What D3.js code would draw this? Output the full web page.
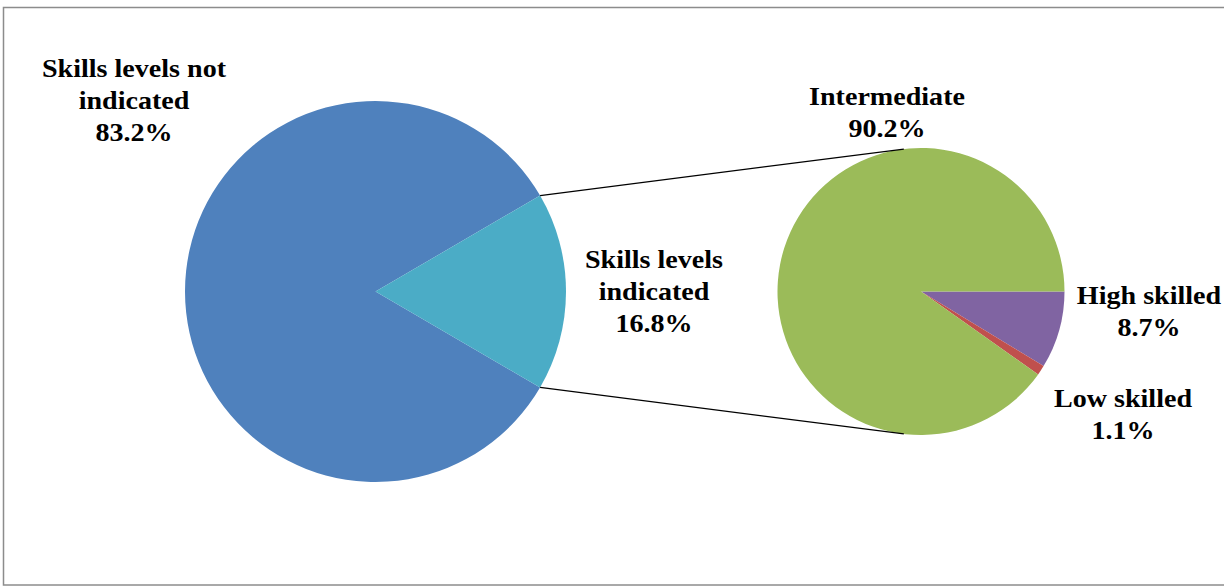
<!DOCTYPE html>
<html>
<head>
<meta charset="utf-8">
<script src="https://cdn.jsdelivr.net/npm/d3@7"></script>
<style>
  html, body { margin: 0; padding: 0; background: #fff; }
  svg { display: block; }
  .lbl { font-family: "Liberation Serif", "Times New Roman", serif; font-weight: bold; font-size: 26px; fill: #000; }
</style>
</head>
<body>
<svg id="chart" width="1224" height="587"></svg>
<script>
// ---- data ----
const mainCategories = ["Skills levels not indicated", "Skills levels indicated"];
const mainValues = [83.2, 16.8];
const mainColors = ["#4F81BD", "#4BACC6"];
const mainLabelLines = [["Skills levels not", "indicated", "83.2%"], ["Skills levels", "indicated", "16.8%"]];

const subCategories = ["High skilled", "Low skilled", "Intermediate"];
const subValues = [8.7, 1.1, 90.2];
const subColors = ["#8064A2", "#C0504D", "#9BBB59"];
const subLabelLines = [["High skilled", "8.7%"], ["Low skilled", "1.1%"], ["Intermediate", "90.2%"]];

// ---- layout ----
const svg = d3.select("#chart");

// frame
svg.append("rect")
  .attr("x", 3.5).attr("y", 7.5).attr("width", 1300).attr("height", 577.5)
  .attr("fill", "none").attr("stroke", "#8c8c8c").attr("stroke-width", 1.5);

const main = { cx: 375.5, cy: 291.5, r: 190.5 };
const sub = { cx: 921, cy: 291.5, r: 143.5 };

// main pie: the "indicated" slice is centred on the 3 o'clock direction
const total = d3.sum(mainValues);
const indicatedAngle = mainValues[1] / total * 2 * Math.PI;
const mainStart = Math.PI / 2 + indicatedAngle / 2;
const mainPie = d3.pie().sort(null).value(d => d)
  .startAngle(mainStart).endAngle(mainStart + 2 * Math.PI);
const mainArcs = mainPie(mainValues);
const mainArc = d3.arc().innerRadius(0).outerRadius(main.r);

const gMain = svg.append("g").attr("transform", `translate(${main.cx},${main.cy})`);
gMain.selectAll("path").data(mainArcs).join("path")
  .attr("d", mainArc)
  .attr("fill", (d, i) => mainColors[i]);

// sub pie: starts at 3 o'clock, clockwise
const subPie = d3.pie().sort(null).value(d => d)
  .startAngle(Math.PI / 2).endAngle(Math.PI / 2 + 2 * Math.PI);
const subArcs = subPie(subValues);
const subArc = d3.arc().innerRadius(0).outerRadius(sub.r);
const gSub = svg.append("g").attr("transform", `translate(${sub.cx},${sub.cy})`);
gSub.selectAll("path").data(subArcs).join("path")
  .attr("d", subArc)
  .attr("fill", (d, i) => subColors[i]);

// connector lines: from the edges of the "indicated" slice to the sub pie
const ind = mainArcs[1];
function pt(c, r, a) { return [c.cx + r * Math.sin(a), c.cy - r * Math.cos(a)]; }
const offs = 0.12; // angle offset from top/bottom of the sub pie
const connectors = [
  [pt(main, main.r, ind.startAngle), pt(sub, sub.r, -offs)],
  [pt(main, main.r, ind.endAngle), pt(sub, sub.r, Math.PI + offs)]
];
svg.selectAll("line.conn").data(connectors).join("line")
  .attr("class", "conn")
  .attr("x1", d => d[0][0]).attr("y1", d => d[0][1])
  .attr("x2", d => d[1][0]).attr("y2", d => d[1][1])
  .attr("stroke", "#000").attr("stroke-width", 1.2);

// labels
const lineH = 32;
const sx = 1.08;
function label(lines, x, y0) {
  const g = svg.append("g").attr("transform", `translate(${x},${y0}) scale(${sx},1)`);
  g.selectAll("text").data(lines).join("text")
    .attr("class", "lbl")
    .attr("text-anchor", "middle")
    .attr("x", 0)
    .attr("y", (d, i) => i * lineH)
    .text(d => d);
}
label(mainLabelLines[0], 134, 77);
label(mainLabelLines[1], 654, 268);
label(subLabelLines[0], 1149, 304);
label(subLabelLines[1], 1123, 407);
label(subLabelLines[2], 887, 105);
</script>
</body>
</html>
